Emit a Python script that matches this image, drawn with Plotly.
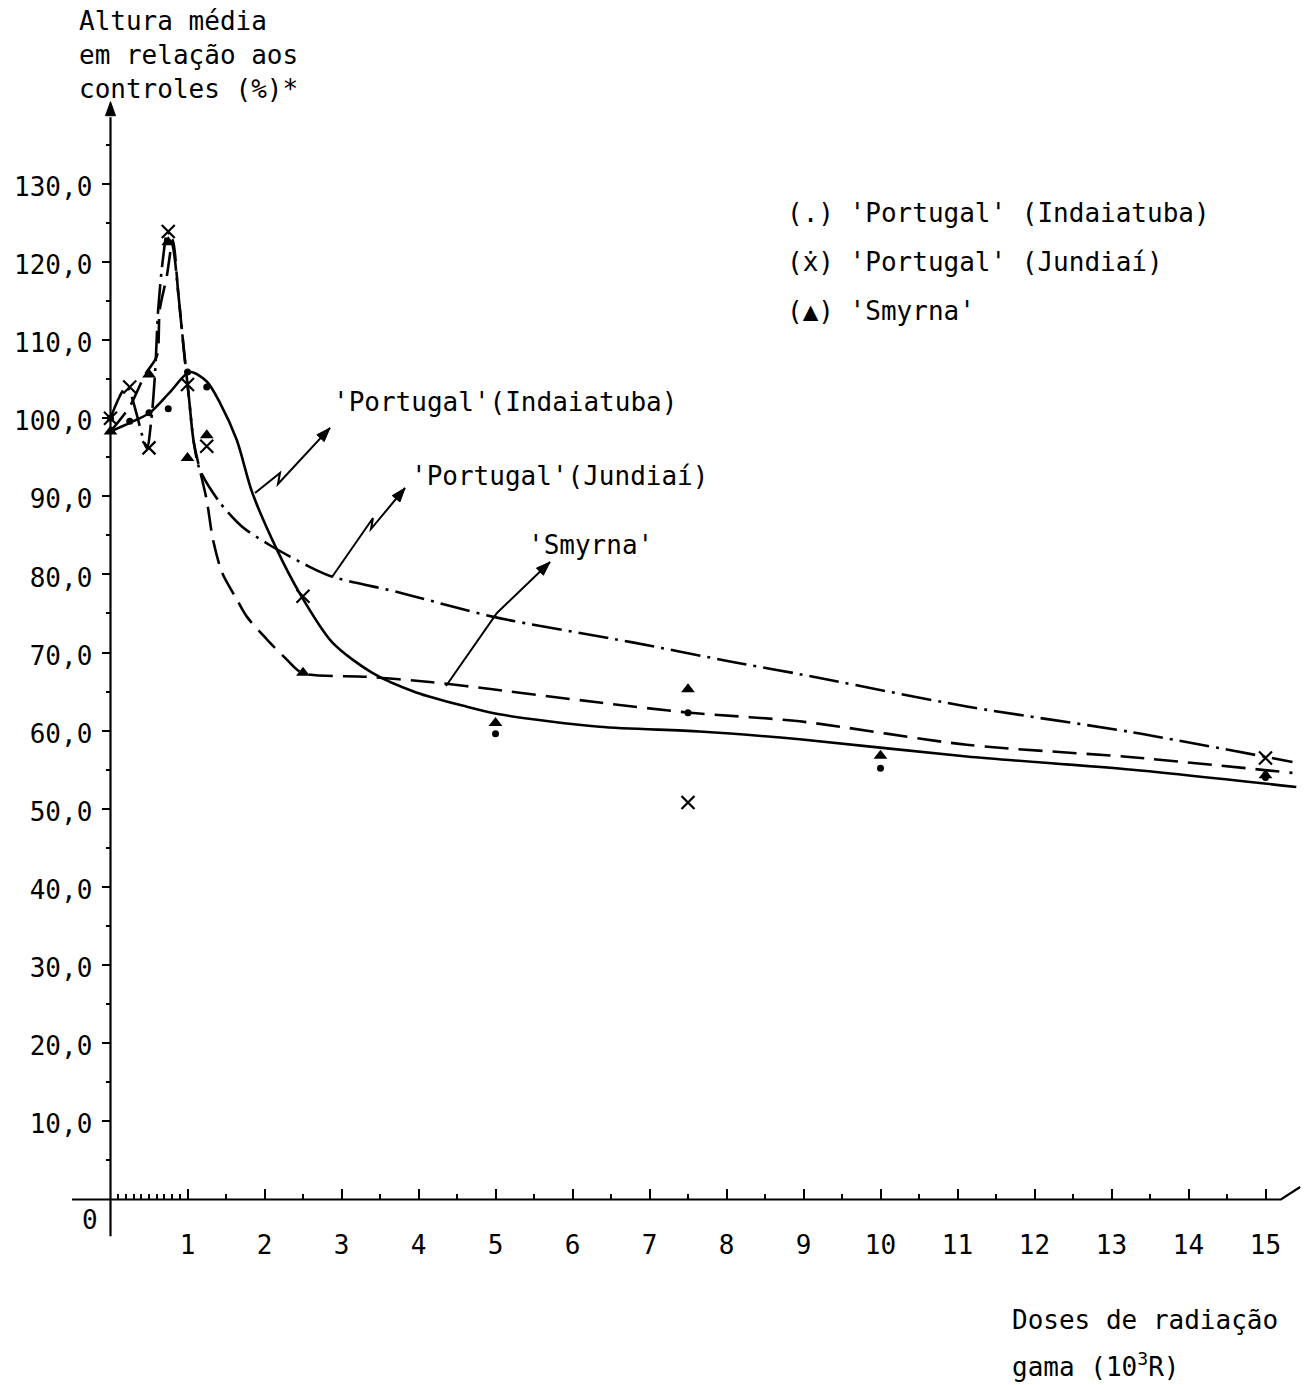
import math
import plotly.graph_objects as go

# ---------------- data ----------------
# observed means (% of controls) per dose (10^3 R)
doses_ind = [0, 0.25, 0.5, 0.75, 1.0, 1.25, 5.0, 7.5, 10.0, 15.0]
vals_ind = [100.0, 99.6, 100.7, 101.2, 105.9, 104.0, 59.6, 62.3, 55.2, 54.0]

doses_jun = [0, 0.25, 0.5, 0.75, 1.0, 1.25, 2.5, 7.5, 15.0]
vals_jun = [100.0, 104.0, 96.2, 123.9, 104.3, 96.4, 77.2, 50.8, 56.5]

doses_smy = [0, 0.5, 0.75, 1.0, 1.25, 2.5, 5.0, 7.5, 10.0, 15.0]
vals_smy = [98.3, 105.6, 122.5, 94.9, 97.8, 67.4, 61.0, 65.3, 56.8, 54.3]

# hand-drawn fitted curves
curve_ind_x = [0, 0.25, 0.51, 0.77, 1.03, 1.25, 1.42, 1.64, 1.84, 2.16, 2.45, 2.88,
               3.40, 3.97, 4.62, 5.05, 6.35, 7.65, 8.95, 11.12, 13.27, 15.40]
curve_ind_y = [98.3, 99.4, 100.7, 103.3, 105.9, 104.7, 102.0, 97.2, 90.5, 83.2, 77.7, 71.3,
               67.4, 64.9, 63.1, 62.1, 60.5, 59.9, 58.9, 56.7, 55.0, 52.8]

curve_jun_x = [0, 0.21, 0.47, 0.53, 0.58, 0.62, 0.68, 0.74, 0.81, 0.88, 0.95, 1.02, 1.08,
               1.16, 1.42, 1.71, 2.06, 2.58, 2.88, 3.75, 4.96, 6.78, 8.08, 8.97, 11.12,
               13.27, 15.35]
curve_jun_y = [100.0, 104.0, 96.2, 99.8, 106.0, 114.0, 120.3, 123.9, 122.0, 116.0, 109.0,
               102.5, 97.0, 93.4, 89.2, 86.1, 83.8, 81.0, 79.7, 77.7, 74.6, 71.3, 68.8,
               67.2, 63.1, 59.8, 56.0]

curve_smy_x = [0, 0.25, 0.45, 0.60, 0.64, 0.73, 0.81, 0.88, 0.95, 1.02, 1.08, 1.16, 1.25,
               1.33, 1.45, 1.64, 1.77, 2.03, 2.29, 2.49, 3.32, 4.18, 4.96, 6.35, 7.52,
               8.95, 11.12, 13.27, 15.35]
curve_smy_y = [98.3, 101.5, 105.6, 107.9, 113.9, 118.1, 122.8, 116.0, 109.0, 102.5, 97.0,
               93.4, 89.5, 84.5, 80.2, 76.8, 74.6, 71.7, 69.1, 67.4, 66.9, 66.2, 65.3,
               63.6, 62.3, 61.2, 58.2, 56.6, 54.6]

# tick labels
x_ticks = list(range(1, 16))
x_ticktext = [str(v) for v in x_ticks]
y_ticks = list(range(10, 140, 10))
y_ticktext = [f"{v},0" for v in y_ticks]

# ---------------- figure ----------------
FONT = "DejaVu Sans Mono"
W, H = 1308, 1385
ML, MR, MT, MB = 72, 4, 90, 123
PW, PH = W - ML - MR, H - MT - MB
XR = [-0.5, 15.5]
YR = [-8, 142]
SX = PW / (XR[1] - XR[0])   # px per x unit
SY = PH / (YR[1] - YR[0])   # px per y unit


def px(x):
    return (x - ML) / PW


def py(y):
    return (H - MB - y) / PH


fig = go.Figure()

fig.add_trace(go.Scatter(x=curve_ind_x, y=curve_ind_y, mode="lines",
                         line=dict(color="black", width=2.6, shape="spline", smoothing=0.8),
                         hoverinfo="skip", name="'Portugal' (Indaiatuba)"))
fig.add_trace(go.Scatter(x=curve_jun_x, y=curve_jun_y, mode="lines",
                         line=dict(color="black", width=2.6, shape="spline", smoothing=0.8,
                                   dash="30px,7px,3px,7px"),
                         hoverinfo="skip", name="'Portugal' (Jundiaí)"))
fig.add_trace(go.Scatter(x=curve_smy_x, y=curve_smy_y, mode="lines",
                         line=dict(color="black", width=2.6, shape="spline", smoothing=0.8,
                                   dash="24px,10px"),
                         hoverinfo="skip", name="'Smyrna'"))

fig.add_trace(go.Scatter(x=doses_ind, y=vals_ind, mode="markers",
                         marker=dict(symbol="circle", size=7, color="black"),
                         name="(.) 'Portugal' (Indaiatuba)"))
fig.add_trace(go.Scatter(x=doses_jun, y=vals_jun, mode="markers",
                         marker=dict(symbol="x-thin", size=13, color="black",
                                     line=dict(color="black", width=2.2)),
                         name="(x) 'Portugal' (Jundiaí)"))
fig.add_trace(go.Scatter(x=doses_smy, y=vals_smy, mode="markers",
                         marker=dict(symbol="triangle-up", size=12, color="black"),
                         name="(▲) 'Smyrna'"))

# axis lines (hand-drawn look)
fig.add_shape(type="line", xref="x", yref="y", x0=0, y0=-4.7, x1=0, y1=138.5,
              line=dict(color="black", width=2.2))
fig.add_shape(type="path", xref="x", yref="y",
              path="M -0.5,0 L 15.2,0 L 15.45,1.6",
              line=dict(color="black", width=2.2))

# zig-zag pointers for curve labels
zig_paths = [
    "M 1.877,90.43 L 2.201,92.99 L 2.175,91.58 L 2.851,98.75",
    "M 2.877,79.67 L 3.409,87.22 L 3.383,85.81 L 3.825,91.06",
    "M 4.357,65.72 L 5.019,75.06 L 5.708,81.59",
]
for p in zig_paths:
    fig.add_shape(type="path", xref="x", yref="y", path=p,
                  line=dict(color="black", width=2))


def arrow_head(tip_x, tip_y, dir_px, dir_py, length=14, half=5):
    """Filled arrow head; direction given in screen pixels (dy positive = up)."""
    n = math.hypot(dir_px, dir_py)
    ux, uy = dir_px / n, dir_py / n
    bx, by = -ux * length, -uy * length
    pxv, pyv = -uy * half, ux * half
    p1 = (tip_x + (bx + pxv) / SX, tip_y + (by + pyv) / SY)
    p2 = (tip_x + (bx - pxv) / SX, tip_y + (by - pyv) / SY)
    return f"M {tip_x},{tip_y} L {p1[0]},{p1[1]} L {p2[0]},{p2[1]} Z"


for (hx, hy, dx, dy) in [(2.851, 98.75, 52, 56), (3.825, 91.06, 34, 41),
                         (5.708, 81.59, 53, 51), (0, 140.5, 0, 1)]:
    fig.add_shape(type="path", xref="x", yref="y", path=arrow_head(hx, hy, dx, dy),
                  fillcolor="black", line=dict(color="black", width=1))

annotations = []
tfont = dict(family=FONT, size=26, color="black")


def label(text, x, y, xanchor="left", yanchor="middle"):
    annotations.append(dict(text=text, x=px(x), y=py(y), xref="paper", yref="paper",
                            xanchor=xanchor, yanchor=yanchor, showarrow=False,
                            align="left", font=tfont))


# axis titles
label("Altura média<br>em relação aos<br>controles (%)*", 77, 4, yanchor="top")
label("Doses de radiação", 1010, 1320)
label("gama (10<sup>3</sup>R)", 1010, 1365)
label("0", 80, 1220)

# legend text
label("(.) 'Portugal' (Indaiatuba)", 785, 213)
label("(ẋ) 'Portugal' (Jundiaí)", 785, 262)
label("(▲) 'Smyrna'", 785, 311)

# curve labels
label("'Portugal'(Indaiatuba)", 331, 402)
label("'Portugal'(Jundiaí)", 409, 476)
label("'Smyrna'", 526, 545)

fig.update_layout(
    width=W, height=H,
    margin=dict(l=ML, r=MR, t=MT, b=MB, pad=0),
    paper_bgcolor="white", plot_bgcolor="white",
    showlegend=False,
    font=tfont,
    annotations=annotations,
    xaxis=dict(range=XR, anchor="free", position=(0 - YR[0]) / (YR[1] - YR[0]),
               showline=False, showgrid=False, zeroline=False,
               tickmode="array", tickvals=x_ticks, ticktext=x_ticktext,
               ticks="inside", ticklen=10, tickwidth=2, tickcolor="black",
               ticklabelstandoff=28, tickfont=tfont,
               minor=dict(tickmode="array",
                          tickvals=[0.1, 0.2, 0.3, 0.4, 0.5, 0.6, 0.7, 0.8, 0.9]
                          + [k + 0.5 for k in range(1, 15)],
                          ticks="inside", ticklen=5, tickwidth=1.8, tickcolor="black")),
    yaxis=dict(range=YR, anchor="free", position=(0 - XR[0]) / (XR[1] - XR[0]),
               showline=False, showgrid=False, zeroline=False,
               tickmode="array", tickvals=y_ticks, ticktext=y_ticktext,
               ticks="outside", ticklen=9, tickwidth=2, tickcolor="black",
               ticklabelstandoff=4, ticklabelshift=3, tickfont=tfont,
               minor=dict(tickmode="array", tickvals=[v + 5 for v in range(0, 135, 10)],
                          ticks="outside", ticklen=5, tickwidth=1.8, tickcolor="black")),
)

fig.write_html("out.html", config={"displayModeBar": False},
               post_script="document.body.style.margin='0';document.body.style.overflow='hidden';")
